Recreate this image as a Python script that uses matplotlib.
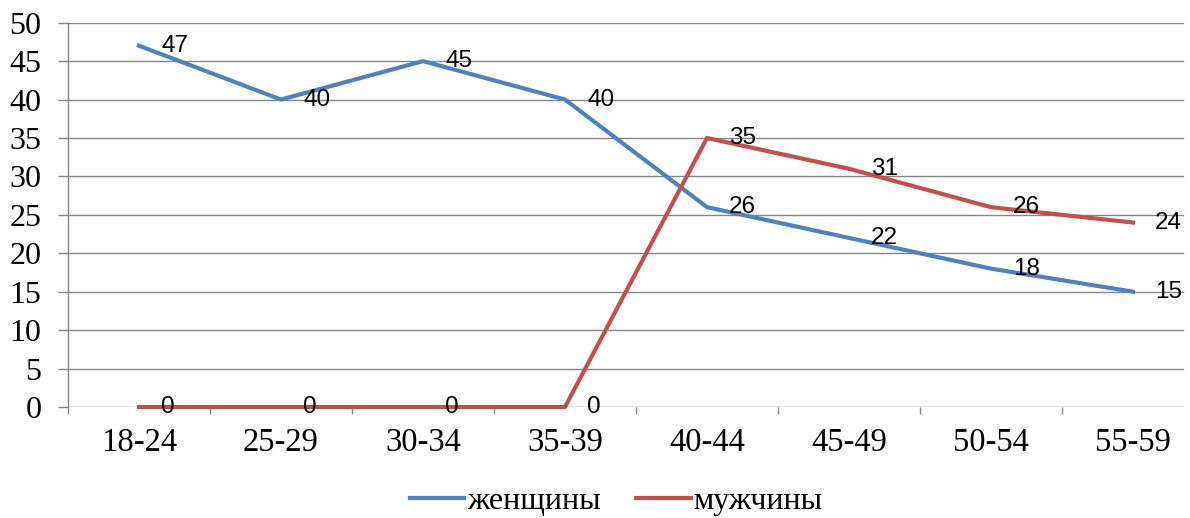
import numpy as np
import matplotlib
matplotlib.use("Agg")
from matplotlib import pyplot as plt

# данные
categories = ["18-24", "25-29", "30-34", "35-39", "40-44", "45-49", "50-54", "55-59"]
women = [47, 40, 45, 40, 26, 22, 18, 15]
men = [0, 0, 0, 0, 35, 31, 26, 24]
yticks = list(range(0, 51, 5))

blue = "#4F81BD"
red = "#C0504D"
grid_c = "#868686"

fig = plt.figure(figsize=(11.9, 5.18), dpi=100)
# область построения уходит чуть за правый край картинки
ax = fig.add_axes([68 / 1190, 1 - 407 / 518, (1204 - 68) / 1190, (407 - 22.7) / 518])
ax.patch.set_visible(False)

x = np.arange(len(categories))
ax.plot(x, women, color=blue, lw=3, label="женщины", zorder=3, clip_on=False)
ax.plot(x, men, color=red, lw=3, label="мужчины", zorder=3, clip_on=False)

# подписи значений
for series in (women, men):
    for xi, v in zip(x, series):
        ax.annotate(str(v), (xi, v), xytext=(16, 0), textcoords="offset points",
                    ha="left", va="center", fontsize=17.5, family="Liberation Sans",
                    color="black", zorder=4)

ax.set_ylim(0, 50)
ax.set_xlim(-0.5, 7.5)
ax.set_yticks(yticks)
ax.set_xticks(x)
ax.set_xticklabels(categories)
ax.set_xticks(np.arange(-0.5, 8, 1), minor=True)

# линии сетки обрываются у 1183 px
xmax = (1183 - 68) / (1204 - 68)
for y in yticks:
    ax.axhline(y, xmin=0, xmax=xmax, color=grid_c, lw=1, zorder=1)

for s in ["top", "right", "bottom"]:
    ax.spines[s].set_visible(False)
ax.spines["left"].set_color(grid_c)
ax.spines["left"].set_linewidth(1)

ax.tick_params(axis="y", length=7, width=1, color=grid_c, pad=12,
               labelsize=23, labelfontfamily="Liberation Serif")
ax.tick_params(axis="x", which="major", length=0, pad=15,
               labelsize=23.5, labelfontfamily="Liberation Serif")
ax.tick_params(axis="x", which="minor", length=5, width=1, color=grid_c)

fig.legend(loc="lower center", bbox_to_anchor=(0.518, -0.052), ncol=2, frameon=False,
           prop={"family": "Liberation Serif", "size": 23},
           handlelength=1.7, handletextpad=0.1, columnspacing=1.1)

plt.savefig("out.png", dpi=100)
